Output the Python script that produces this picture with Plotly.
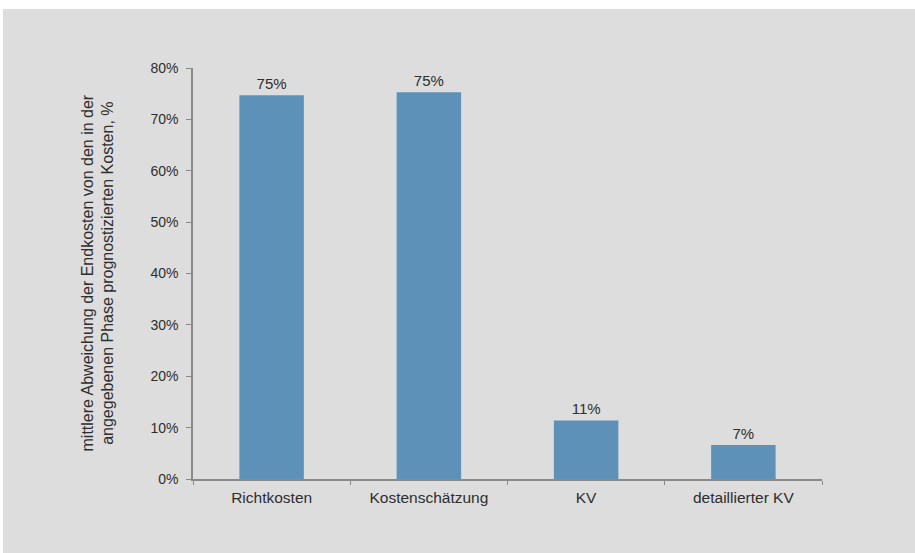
import plotly.graph_objects as go

# Kostenphasen und mittlere Abweichung der Endkosten (Anteil)
phasen = ["Richtkosten", "Kostenschätzung", "KV", "detaillierter KV"]
abweichung = [0.747, 0.753, 0.114, 0.066]
y_ticks = [0, 0.1, 0.2, 0.3, 0.4, 0.5, 0.6, 0.7, 0.8]

W, H = 915, 553
ML, MR, MT, MB = 193, 93, 68, 74
PW, PH = W - ML - MR, H - MT - MB

BG = "#dddddd"
BAR = "#5e91b7"
TXT = "#2e2e2e"
AX = "#8a8a8a"
FONT = "Liberation Sans, Arial, sans-serif"

fig = go.Figure(
    go.Bar(
        x=phasen,
        y=abweichung,
        marker=dict(color=BAR, line=dict(width=0)),
        width=0.41,
        texttemplate="%{y:.0%}",
        textposition="outside",
        textfont=dict(family=FONT, size=15, color=TXT),
        cliponaxis=False,
    )
)

fig.update_layout(
    width=W,
    height=H,
    margin=dict(l=ML, r=MR, t=MT, b=MB),
    paper_bgcolor=BG,
    plot_bgcolor=BG,
    showlegend=False,
    font=dict(family=FONT, size=15, color=TXT),
    xaxis=dict(
        showgrid=False,
        showline=True,
        linecolor=AX,
        linewidth=1.5,
        ticks="outside",
        tickson="boundaries",
        ticklen=4,
        tickcolor=AX,
        ticklabelstandoff=4,
        tickfont=dict(family=FONT, size=15.5, color=TXT),
    ),
    yaxis=dict(
        range=[0, 0.8],
        tickvals=y_ticks,
        tickformat=".0%",
        showgrid=False,
        zeroline=False,
        showline=True,
        linecolor=AX,
        linewidth=1.5,
        ticks="outside",
        ticklen=5,
        tickcolor=AX,
        ticklabelstandoff=5,
        tickfont=dict(family=FONT, size=14, color=TXT),
    ),
    annotations=[
        dict(
            text="mittlere Abweichung der Endkosten von den in der<br>"
                 "angegebenen Phase prognostizierten Kosten, %",
            xref="paper", yref="paper",
            x=(97 - ML) / PW, y=0.5,
            xanchor="center", yanchor="middle",
            textangle=-90,
            showarrow=False,
            font=dict(family=FONT, size=16, color=TXT),
        )
    ],
    shapes=[
        # heller Rand oben und links
        dict(type="rect", xref="paper", yref="paper",
             x0=-ML / PW, x1=(W - ML) / PW,
             y0=(H - MB - 9) / PH, y1=(H - MB) / PH,
             fillcolor="white", line=dict(width=0), layer="below"),
        dict(type="rect", xref="paper", yref="paper",
             x0=-ML / PW, x1=(3 - ML) / PW,
             y0=-MB / PH, y1=(H - MB) / PH,
             fillcolor="white", line=dict(width=0), layer="below"),
    ],
)

fig.write_html("out.html")
